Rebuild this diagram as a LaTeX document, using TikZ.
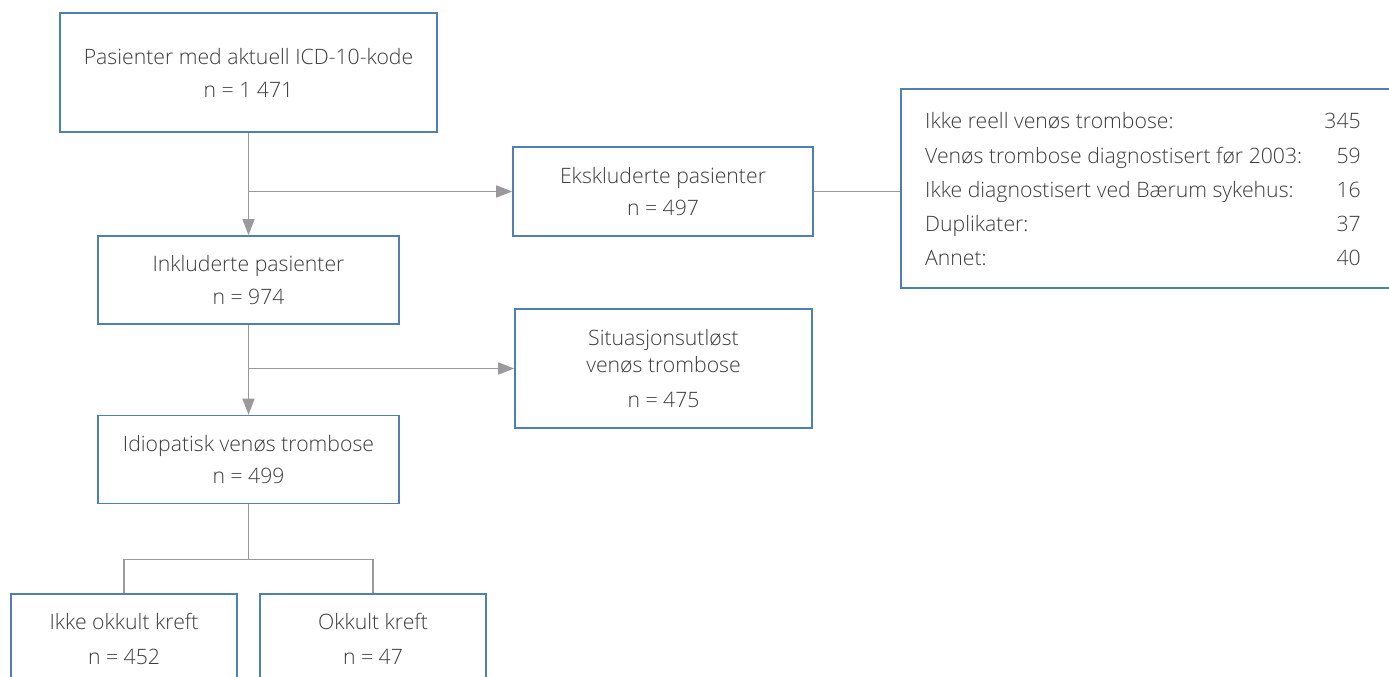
\documentclass[tikz,border=0pt]{standalone}
\usepackage{fontspec}
\setmainfont{Open Sans Light}
\usetikzlibrary{arrows.meta}
\definecolor{boxblue}{HTML}{4F7FB3}
\definecolor{linegray}{HTML}{9A9A9E}
\definecolor{txt}{HTML}{3C3C3C}
\tikzset{
  box/.style={draw=boxblue, line width=1.6bp, align=center, text=txt, inner sep=0pt,
    font={\fontsize{21.3}{27}\selectfont}},
  conn/.style={draw=linegray, line width=1.5bp},
  arr/.style={conn, -{Triangle[length=16bp,width=12bp]}},
  lst/.style={text=txt, font={\fontsize{21.3}{27}\selectfont}, inner sep=0pt},
}
\begin{document}
\begin{tikzpicture}[x=1bp,y=-1bp]
\clip (0,0) rectangle (1389,677);
\fill[white] (0,0) rectangle (1389,677);
\node[box, minimum width=377bp, minimum height=119bp] (p1) at (248.5,72.5) {Pasienter med aktuell ICD-10-kode\\[6bp]n = 1 471};
\node[box, minimum width=300bp, minimum height=89bp] (eks) at (663,191.5) {Ekskluderte pasienter\\[6bp]n = 497};
\node[box, minimum width=301bp, minimum height=88bp] (inkl) at (248.5,280) {Inkluderte pasienter\\[6bp]n = 974};
\node[box, minimum width=297bp, minimum height=119bp] (sit) at (663.5,368.5) {Situasjonsutløst\\venøs trombose\\[8bp]n = 475};
\node[box, minimum width=301bp, minimum height=88bp] (idio) at (248.5,459.5) {Idiopatisk venøs trombose\\[6bp]n = 499};
\node[box, minimum width=226bp, minimum height=90bp] (ikke) at (124,639) {Ikke okkult kreft\\[8bp]n = 452};
\node[box, minimum width=226bp, minimum height=90bp] (okk) at (373,639) {Okkult kreft\\[8bp]n = 47};
\node[box, minimum width=510bp, minimum height=199bp] (big) at (1156,188.5) {};
\foreach \i/\t/\n in {0/Ikke reell venøs trombose:/345, 1/Venøs trombose diagnostisert før 2003:/59, 2/Ikke diagnostisert ved Bærum sykehus:/16, 3/Duplikater:/37, 4/Annet:/40}{
  \node[lst, anchor=base west] (l\i) at (925,{129+34*\i}) {\t};
  \node[lst, anchor=base east] (r\i) at (1361,{129+34*\i}) {\n};
}
\coordinate (b1) at (p1.south -| inkl.north);
\coordinate (b2) at (eks.west -| inkl.north);
\draw[arr] (b1) -- (inkl.north);
\draw[arr] (b2) -- (eks.west);
\draw[conn] (eks.east) -- (eks.east -| big.west);
\coordinate (b3) at (sit.west -| inkl.south);
\draw[arr] (inkl.south) -- (idio.north);
\draw[arr] (b3) -- (sit.west);
\path (idio.south) ++(0,55) coordinate (b4);
\draw[conn] (idio.south) -- (b4);
\draw[conn] (b4) -| (ikke.north);
\draw[conn] (b4) -| (okk.north);
\end{tikzpicture}
\end{document}
